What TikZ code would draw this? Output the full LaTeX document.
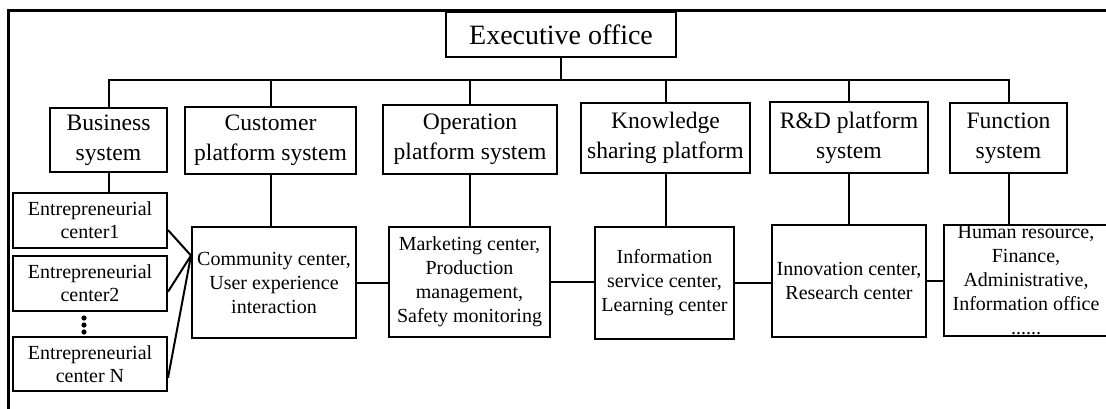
\documentclass[tikz,border=0pt]{standalone}
\usepackage{fontspec}
\setmainfont{Liberation Serif}
\begin{document}
\begin{tikzpicture}[x=0.5pt,y=-0.5pt,
  box/.style={draw, line width=1pt, inner sep=0pt, align=center},
  size/.style 2 args={minimum width=#1, minimum height=#2},
  topbox/.style={box, font=\fontsize{14}{17}\selectfont},
  midbox/.style={box, font=\fontsize{11.8}{15}\selectfont},
  lowbox/.style={box, font=\fontsize{10}{12}\selectfont},
  entbox/.style={box, font=\fontsize{10}{11.4}\selectfont},
  link/.style={line width=1pt}]
\useasboundingbox (0,0) rectangle (1106,408);
\clip (0,0) rectangle (1106,408);
% outer frame
\draw[line width=1.5pt] (8,420) -- (8,10) -- (1120,10);

% head office
\node[topbox, size={115pt}{22.5pt}] (exec) at (561,34.5) {Executive office};

% platform systems
\node[midbox, size={58.5pt}{32pt}]   (bus) at (108.5,140)  {Business\\system};
\node[midbox, size={85.5pt}{33.5pt}] (cus) at (270.5,140.5) {Customer\\platform system};
\node[midbox, size={87pt}{34.5pt}]   (ope) at (470,139.5)  {Operation\\platform system};
\node[midbox, size={84.5pt}{35pt}]   (kno) at (665.5,138)  {Knowledge\\sharing platform};
\node[midbox, size={79pt}{35.5pt}]   (rnd) at (849,137.5)  {R\&D platform\\system};
\node[midbox, size={58.5pt}{35pt}]   (fun) at (1008.5,138) {Function\\system};

% entrepreneurial centers
\node[entbox, size={77pt}{27.5pt}] (e1) at (90,220.5) {Entrepreneurial\\center1};
\node[entbox, size={77pt}{27.5pt}] (e2) at (90,283.5) {Entrepreneurial\\center2};
\node[entbox, size={77pt}{27pt}]   (en) at (90,364)   {Entrepreneurial\\center N};
% vertical ellipsis between center2 and center N
\foreach \yy in {318,325,332}
  \fill (84,\yy) circle (1.3pt);

% service centers
\node[lowbox, size={82pt}{55.5pt}]   (com) at (274,282.5)  {Community center,\\User experience\\interaction};
\node[lowbox, size={80.5pt}{55pt}]   (mkt) at (469.5,282)  {Marketing center,\\Production\\management,\\Safety monitoring};
\node[lowbox, size={69.5pt}{56pt}]   (inf) at (664.5,283)  {Information\\service center,\\Learning center};
\node[lowbox, size={77pt}{56pt}]     (inn) at (849,281)    {Innovation center,\\Research center};
\node[lowbox, size={82pt}{55.5pt}]   (hum) at (1026,280.5) {Human resource,\\Finance,\\Administrative,\\Information office\\......};

% tree from the executive office
\coordinate (bar) at (561,80);
\draw[link] (exec.south) -- (bar);
\draw[link] (bus.north) -- (bus.north |- bar) -- (fun.north |- bar) -- (fun.north);
\foreach \n in {cus,ope,kno,rnd}
  \draw[link] (\n.north) -- (\n.north |- bar);

% systems to centers
\draw[link] (bus.south) -- (bus.south |- e1.north);
\draw[link] (cus.south) -- (cus.south |- com.north);
\draw[link] (ope.south) -- (ope.south |- mkt.north);
\draw[link] (kno.south) -- (kno.south |- inf.north);
\draw[link] (rnd.south) -- (rnd.south |- inn.north);
\draw[link] (fun.south) -- (fun.south |- hum.north);

% entrepreneurial centers to the community center
\draw[link] (e1.-7)  -- (com.162);
\draw[link] (e2.-6)  -- (com.162);
\draw[link] (en.-10) -- (com.162);

% chain of centers
\draw[link] (com.east) -- (com.east -| mkt.west);
\draw[link] (mkt.east) -- (mkt.east -| inf.west);
\draw[link] (inf.east) -- (inf.east -| inn.west);
\draw[link] (inn.east) -- (inn.east -| hum.west);
\end{tikzpicture}
\end{document}
